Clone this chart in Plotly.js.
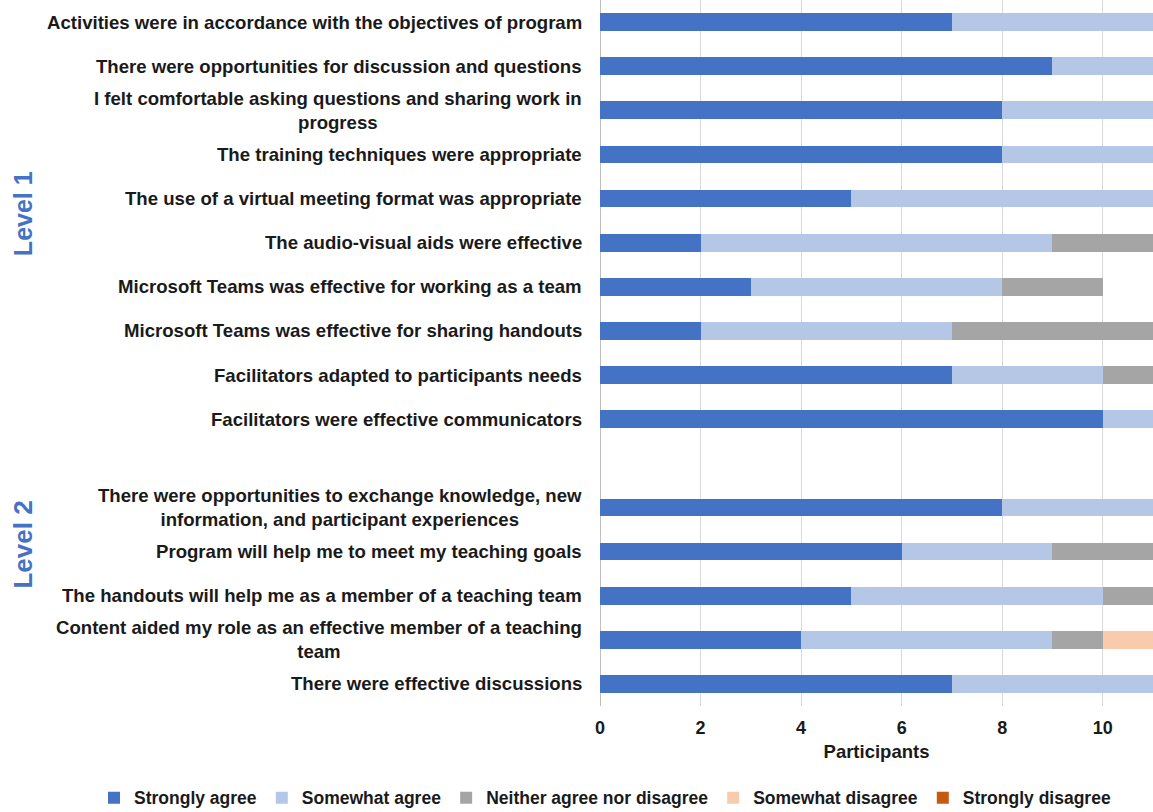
<!DOCTYPE html>
<html>
<head>
<meta charset="utf-8">
<script src="https://cdn.plot.ly/plotly-3.0.1.min.js"></script>
<style>html,body{margin:0;padding:0;background:#fff;}#chart{width:1153px;height:812px;}</style>
</head>
<body>
<div id="chart"></div>
<script>
const categories = [
  "Activities were in accordance with the objectives of program",
  "There were opportunities for discussion and questions",
  "I felt comfortable asking questions and sharing work in<br>progress",
  "The training techniques were appropriate",
  "The use of a virtual meeting format was appropriate",
  "The audio-visual aids were effective",
  "Microsoft Teams was effective for working as a team",
  "Microsoft Teams was effective for sharing handouts",
  "Facilitators adapted to participants needs",
  "Facilitators were effective communicators",
  " ",
  "There were opportunities to exchange knowledge, new<br>information, and participant experiences",
  "Program will help me to meet my teaching goals",
  "The handouts will help me as a member of a teaching team",
  "Content aided my role as an effective member of a teaching<br>team",
  "There were effective discussions"
];
const stronglyAgree    = [7, 9, 8, 8, 5, 2, 3, 2, 7, 10, null, 8, 6, 5, 4, 7];
const somewhatAgree    = [4, 2, 3, 3, 6, 7, 5, 5, 3, 1, null, 3, 3, 5, 5, 4];
const neither          = [0, 0, 0, 0, 0, 2, 2, 4, 1, 0, null, 0, 2, 1, 1, 0];
const somewhatDisagree = [0, 0, 0, 0, 0, 0, 0, 0, 0, 0, null, 0, 0, 0, 1, 0];
const stronglyDisagree = [0, 0, 0, 0, 0, 0, 0, 0, 0, 0, null, 0, 0, 0, 0, 0];
const seriesNames = ["Strongly agree", "Somewhat agree", "Neither agree nor disagree", "Somewhat disagree", "Strongly disagree"];
const seriesColors = ["#4472C4", "#B4C7E7", "#A5A5A5", "#F8CBAD", "#C55A11"];
const xTicks = [0, 2, 4, 6, 8, 10];
const groupLabels = ["Level 1", "Level 2"];

const FONT = 'Liberation Sans, Arial, sans-serif';
const seriesValues = [stronglyAgree, somewhatAgree, neither, somewhatDisagree, stronglyDisagree];
const traces = seriesValues.map((vals, i) => ({
  type: 'bar',
  orientation: 'h',
  name: '<b>' + seriesNames[i] + '</b>',
  x: vals,
  y: categories,
  marker: {color: seriesColors[i], line: {width: 0}},
  hoverinfo: 'x+name'
}));

const labelAnnotations = categories.filter(c => c.trim() !== "").map(c => ({
  xref: 'paper', yref: 'y', x: 0, y: c,
  xanchor: 'right', yanchor: 'middle', xshift: -16,
  text: '<b>' + c.split('<br>').join('</b><br><b>') + '</b>',
  align: 'center', showarrow: false,
  font: {family: FONT, size: 18.6, color: '#1a1a1a'}
}));

const groupAnnotations = [
  {y: 0.697, text: groupLabels[0], size: 25},
  {y: 0.229, text: groupLabels[1], size: 26}
].map(g => ({
  xref: 'paper', yref: 'paper', x: -1.043, y: g.y,
  text: '<b>' + g.text + '</b>', textangle: -90, showarrow: false,
  xanchor: 'center', yanchor: 'middle',
  font: {family: FONT, size: g.size, color: '#4472C4'}
}));

const layout = {
  width: 1153, height: 812,
  margin: {l: 600, r: 0, t: 0, b: 106, autoexpand: false},
  barmode: 'stack',
  bargap: 0.6,
  paper_bgcolor: '#fff', plot_bgcolor: '#fff',
  font: {family: FONT, color: '#1a1a1a'},
  xaxis: {
    range: [0, 11], tickvals: xTicks, ticktext: xTicks.map(v => '<b>' + v + '</b>'),
    showgrid: true, gridcolor: '#d9d9d9', gridwidth: 1, zeroline: true, zerolinecolor: '#bfbfbf', zerolinewidth: 1,
    showline: false, ticks: '', tickfont: {size: 18, color: '#1a1a1a'}, ticklabelstandoff: 9,
    title: {text: '<b>Participants</b>', font: {size: 18.5, color: '#1a1a1a'}, standoff: 8},
    fixedrange: true
  },
  yaxis: {
    type: 'category', categoryorder: 'array', categoryarray: categories,
    autorange: 'reversed', showticklabels: false, ticks: '', showgrid: false,
    showline: false, zeroline: false, fixedrange: true
  },
  showlegend: true,
  legend: {
    orientation: 'h', xref: 'paper', yref: 'paper',
    x: -0.915, xanchor: 'left', y: -0.13, yanchor: 'middle',
    font: {family: FONT, size: 17.5, color: '#1a1a1a'}, traceorder: 'normal',
    itemwidth: 30, bgcolor: 'rgba(0,0,0,0)'
  },
  annotations: labelAnnotations.concat(groupAnnotations)
};

Plotly.newPlot('chart', traces, layout, {displayModeBar: false, staticPlot: true});
</script>
</body>
</html>
